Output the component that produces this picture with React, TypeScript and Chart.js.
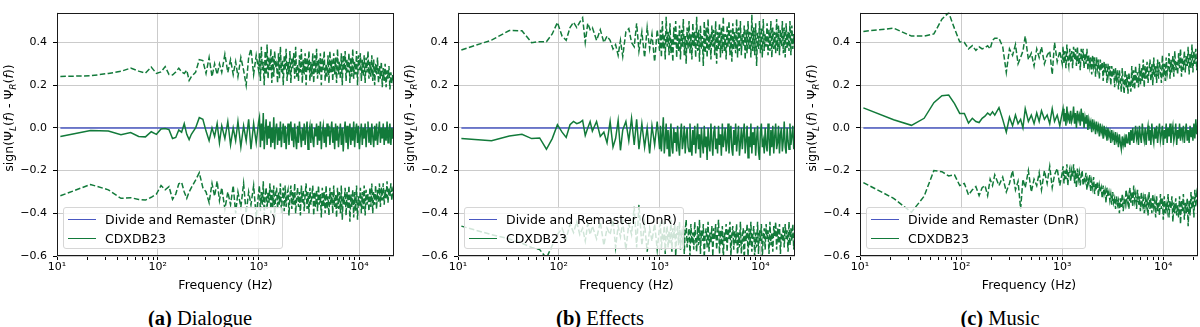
import React, { useEffect, useRef } from "react";
import { Chart, registerables } from "chart.js";

Chart.register(...registerables);

const GREEN = "#127a3a";
const BLUE = "#4a58c2";
const GRID = "#cbcbcb";
const FONT = "'DejaVu Sans', sans-serif";

// Frequency bins (Hz)
const FREQ = [
  10.8, 21.5, 32.3, 43.1, 53.8, 64.6, 75.4, 86.1, 96.9, 107.7, 118.4, 129.2, 140, 150.7, 161.5, 172.3, 183, 193.8, 204.6, 215.3,
  237, 258, 280, 301, 323, 345, 366, 388, 409, 431, 463, 495, 527, 560, 592, 624, 667, 710, 753, 797, 840, 893, 947, 1001,
  1020, 1042, 1065, 1089, 1113, 1137, 1162, 1188, 1214, 1241,
  1268, 1296, 1324, 1353, 1383, 1414, 1445, 1476, 1509, 1542,
  1576, 1611, 1646, 1682, 1719, 1757, 1796, 1835, 1875, 1917,
  1959, 2002, 2046, 2091, 2137, 2184, 2232, 2281, 2331, 2382,
  2435, 2488, 2543, 2599, 2656, 2714, 2774, 2835, 2897, 2961,
  3026, 3092, 3160, 3230, 3301, 3373, 3447, 3523, 3601, 3680,
  3761, 3843, 3928, 4014, 4102, 4192, 4285, 4379, 4475, 4573,
  4674, 4777, 4882, 4989, 5099, 5211, 5325, 5442, 5562, 5684,
  5809, 5937, 6067, 6201, 6337, 6477, 6619, 6765, 6914, 7066,
  7221, 7380, 7542, 7708, 7878, 8051, 8228, 8409, 8594, 8783,
  8976, 9174, 9376, 9582, 9793, 10008, 10228, 10453, 10683, 10918,
  11158, 11404, 11655, 11911, 12173, 12441, 12715, 12995, 13281, 13573,
  13871, 14176, 14488, 14807, 15133, 15466, 15806, 16154, 16509, 16872,
  17244, 17623, 18011, 18407, 18812, 19226, 19649, 20081, 20523, 20975,
  21436, 22050,
];

const X_TICKS = [
  10, 20, 30, 40, 50, 60, 70, 80, 90, 100, 200, 300, 400, 500, 600, 700, 800, 900,
  1000, 2000, 3000, 4000, 5000, 6000, 7000, 8000, 9000, 10000, 20000,
];
const Y_TICKS = [-0.6, -0.4, -0.2, 0, 0.2, 0.4];
const X_MIN = 10;
const X_MAX = 22050;
const Y_MIN = -0.6;
const Y_MAX = 0.54;

const LEGEND_DNR = "Divide and Remaster (DnR)";
const LEGEND_CDX = "CDXDB23";
const X_TITLE = "Frequency (Hz)";
// y-axis title pieces: [text, italic, subscript]
const Y_TITLE_PARTS: [string, boolean, boolean][] = [
  ["sign(\u03A8", false, false],
  ["L", true, true],
  ["(", false, false],
  ["f", true, false],
  [") - \u03A8", false, false],
  ["R", true, true],
  ["(", false, false],
  ["f", true, false],
  ["))", false, false],
];

// (a) Dialogue
const dialogueUpper = [
  0.241, 0.244, 0.255, 0.265, 0.28, 0.266, 0.257, 0.285, 0.255, 0.262, 0.287, 0.25, 0.248, 0.262, 0.28, 0.262, 0.255, 0.27, 0.222, 0.24,
  0.26, 0.32, 0.315, 0.255, 0.33, 0.24, 0.3, 0.25, 0.3, 0.26, 0.345, 0.26, 0.32, 0.25, 0.31, 0.24, 0.33, 0.27, 0.2, 0.33, 0.37, 0.25, 0.34, 0.27,
  0.35, 0.22, 0.38, 0.27, 0.31, 0.2, 0.36, 0.25, 0.39, 0.23,
  0.33, 0.27, 0.37, 0.21, 0.34, 0.24, 0.36, 0.28, 0.3, 0.21,
  0.35, 0.23, 0.38, 0.26, 0.32, 0.2, 0.34, 0.27, 0.37, 0.22,
  0.31, 0.25, 0.36, 0.21, 0.33, 0.28, 0.35, 0.23, 0.38, 0.24,
  0.3, 0.22, 0.34, 0.26, 0.37, 0.21, 0.32, 0.25, 0.35, 0.2,
  0.33, 0.27, 0.36, 0.22, 0.31, 0.24, 0.35, 0.21, 0.34, 0.26,
  0.37, 0.23, 0.32, 0.25, 0.35, 0.2, 0.33, 0.27, 0.36, 0.22,
  0.3, 0.24, 0.34, 0.21, 0.36, 0.26, 0.32, 0.22, 0.35, 0.25,
  0.33, 0.21, 0.37, 0.25, 0.31, 0.23, 0.35, 0.2, 0.34, 0.27,
  0.36, 0.22, 0.32, 0.26, 0.35, 0.21, 0.33, 0.24, 0.37, 0.23,
  0.31, 0.25, 0.36, 0.2, 0.34, 0.27, 0.35, 0.22, 0.32, 0.24,
  0.34, 0.21, 0.33, 0.26, 0.36, 0.23, 0.31, 0.24, 0.34, 0.22,
  0.32, 0.2, 0.3, 0.25, 0.33, 0.21, 0.29, 0.23, 0.31, 0.19,
  0.28, 0.22, 0.3, 0.19, 0.27, 0.23, 0.29, 0.18, 0.26, 0.21,
  0.25, 0.2,
];
const dialogueMean = [
  -0.04, -0.012, -0.015, -0.032, -0.022, -0.04, -0.042, -0.018, -0.03, -0.005, -0.003, -0.008, -0.05, -0.045, -0.01, -0.02, 0.02, -0.03, -0.055, -0.03,
  0, 0.048, 0.04, -0.015, -0.06, 0, -0.04, 0.02, -0.07, 0.01, -0.05, 0.03, -0.08, 0, -0.06, 0.03, -0.09, 0.01, -0.06, 0.04, -0.1, 0.02, -0.07, 0.03,
  0.05, -0.09, 0.02, -0.06, 0.07, -0.1, -0.02, 0.04, -0.08, 0.01,
  -0.05, 0.03, -0.09, 0, -0.07, 0.05, -0.1, -0.01, 0.02, -0.08,
  0, -0.06, 0.03, -0.09, -0.02, 0.02, -0.07, 0.01, -0.1, -0.03,
  0.02, -0.08, -0.01, 0.03, -0.06, 0, -0.09, 0.02, -0.05, -0.1,
  0.01, -0.07, 0.03, -0.03, -0.09, 0, -0.06, 0.02, -0.08, -0.01,
  0.03, -0.1, -0.02, 0.01, -0.07, 0.02, -0.05, -0.09, 0, -0.04,
  0.02, -0.08, 0.01, -0.06, 0.03, -0.1, -0.02, 0.01, -0.07, 0,
  -0.09, 0.02, -0.04, 0.01, -0.08, -0.01, 0.03, -0.07, 0, -0.1,
  0.02, -0.06, 0.01, -0.09, -0.03, 0.02, -0.08, 0, -0.11, -0.02,
  0.03, -0.07, 0.01, -0.1, -0.04, 0.02, -0.08, 0, -0.06, 0.03,
  -0.09, -0.01, 0.02, -0.07, 0.01, -0.1, -0.03, 0.02, -0.08, 0,
  -0.05, 0.02, -0.09, -0.01, 0.03, -0.07, 0, -0.08, 0.02, -0.04,
  -0.09, 0.01, -0.06, 0.02, -0.08, -0.02, 0.03, -0.07, 0, -0.05,
  0.02, -0.08, 0, -0.06, 0.03, -0.07, -0.01, 0.02, -0.08, 0,
  -0.05, 0.02,
];
const dialogueLower = [
  -0.318, -0.265, -0.29, -0.33, -0.327, -0.335, -0.338, -0.325, -0.31, -0.27, -0.29, -0.275, -0.335, -0.31, -0.262, -0.255, -0.3, -0.33, -0.3, -0.28,
  -0.245, -0.21, -0.28, -0.3, -0.35, -0.26, -0.32, -0.25, -0.34, -0.28, -0.38, -0.3, -0.36, -0.27, -0.4, -0.3, -0.37, -0.26, -0.4, -0.3, -0.36, -0.27, -0.42, -0.3,
  -0.27, -0.39, -0.3, -0.36, -0.25, -0.41, -0.32, -0.28, -0.38, -0.3,
  -0.35, -0.26, -0.4, -0.29, -0.37, -0.27, -0.42, -0.31, -0.28, -0.38,
  -0.3, -0.36, -0.26, -0.4, -0.33, -0.28, -0.39, -0.27, -0.37, -0.31,
  -0.29, -0.41, -0.32, -0.27, -0.38, -0.3, -0.36, -0.26, -0.4, -0.33,
  -0.28, -0.37, -0.3, -0.41, -0.27, -0.35, -0.29, -0.39, -0.31, -0.26,
  -0.38, -0.3, -0.4, -0.28, -0.36, -0.32, -0.27, -0.41, -0.3, -0.37,
  -0.29, -0.39, -0.27, -0.36, -0.31, -0.42, -0.28, -0.37, -0.3, -0.4,
  -0.27, -0.38, -0.32, -0.41, -0.28, -0.36, -0.3, -0.4, -0.27, -0.37,
  -0.31, -0.42, -0.28, -0.38, -0.3, -0.4, -0.27, -0.43, -0.32, -0.36,
  -0.28, -0.41, -0.3, -0.38, -0.27, -0.44, -0.31, -0.37, -0.29, -0.42,
  -0.3, -0.39, -0.27, -0.43, -0.32, -0.37, -0.28, -0.4, -0.3, -0.38,
  -0.27, -0.41, -0.29, -0.36, -0.31, -0.39, -0.28, -0.37, -0.26, -0.4,
  -0.3, -0.36, -0.27, -0.38, -0.29, -0.35, -0.26, -0.37, -0.28, -0.34,
  -0.26, -0.36, -0.29, -0.33, -0.25, -0.35, -0.28, -0.32, -0.26, -0.34,
  -0.29, -0.31,
];

// (b) Effects
const effectsUpper = [
  0.365, 0.411, 0.456, 0.455, 0.399, 0.404, 0.404, 0.44, 0.494, 0.43, 0.41, 0.47, 0.495, 0.47, 0.495, 0.516, 0.4, 0.49, 0.46, 0.47,
  0.41, 0.46, 0.4, 0.43, 0.41, 0.37, 0.39, 0.34, 0.41, 0.335, 0.45, 0.465, 0.4, 0.38, 0.49, 0.36, 0.45, 0.33, 0.47, 0.37, 0.44, 0.31, 0.46, 0.36,
  0.46, 0.33, 0.5, 0.37, 0.44, 0.32, 0.52, 0.38, 0.45, 0.34,
  0.49, 0.35, 0.42, 0.31, 0.47, 0.39, 0.5, 0.33, 0.44, 0.36,
  0.48, 0.32, 0.46, 0.38, 0.51, 0.34, 0.43, 0.3, 0.47, 0.37,
  0.5, 0.35, 0.44, 0.32, 0.49, 0.38, 0.45, 0.33, 0.52, 0.36,
  0.46, 0.31, 0.48, 0.37, 0.43, 0.29, 0.5, 0.35, 0.47, 0.33,
  0.51, 0.36, 0.44, 0.32, 0.48, 0.38, 0.46, 0.34, 0.5, 0.3,
  0.45, 0.37, 0.49, 0.33, 0.47, 0.35, 0.52, 0.36, 0.44, 0.32,
  0.48, 0.38, 0.5, 0.34, 0.46, 0.31, 0.49, 0.37, 0.45, 0.35,
  0.51, 0.33, 0.47, 0.36, 0.5, 0.34, 0.44, 0.38, 0.48, 0.32,
  0.46, 0.35, 0.5, 0.37, 0.45, 0.33, 0.53, 0.36, 0.47, 0.34,
  0.49, 0.29, 0.45, 0.37, 0.5, 0.35, 0.47, 0.33, 0.51, 0.36,
  0.44, 0.38, 0.49, 0.34, 0.46, 0.36, 0.5, 0.33, 0.47, 0.37,
  0.45, 0.35, 0.51, 0.36, 0.48, 0.34, 0.46, 0.38, 0.5, 0.35,
  0.47, 0.33, 0.49, 0.37, 0.45, 0.36, 0.5, 0.34, 0.48, 0.37,
  0.44, 0.36,
];
const effectsMean = [
  -0.05, -0.06, -0.038, -0.03, -0.05, -0.047, -0.1, -0.05, 0.015, -0.02, -0.045, 0.015, 0.03, 0.02, 0.025, 0.035, -0.035, 0, 0.03, -0.015,
  0.03, -0.04, -0.02, -0.07, 0.03, -0.09, -0.05, 0.035, -0.105, -0.01, 0.03, -0.06, 0.045, -0.08, 0.04, -0.1, 0.02, -0.09, 0, -0.12, 0.01, -0.08, 0.03, -0.1,
  0.01, -0.11, -0.03, 0.05, -0.12, -0.06, 0.02, -0.1, -0.01, -0.13,
  -0.04, 0.02, -0.09, -0.12, 0, -0.07, -0.02, -0.11, 0.01, -0.08,
  -0.13, -0.03, 0.02, -0.1, -0.06, 0.01, -0.12, -0.04, 0, -0.09,
  -0.11, 0.02, -0.07, -0.13, -0.01, -0.08, 0.01, -0.12, -0.05, 0.02,
  -0.1, -0.03, -0.14, 0, -0.07, -0.12, 0.01, -0.09, -0.04, -0.15,
  0, -0.08, -0.11, 0.02, -0.06, -0.13, -0.02, 0.01, -0.1, -0.05,
  -0.12, 0.01, -0.08, -0.03, -0.13, 0.02, -0.09, -0.05, 0, -0.11,
  -0.07, 0.02, -0.12, -0.04, 0.01, -0.1, -0.13, -0.01, -0.08, 0.02,
  -0.11, -0.05, 0.01, -0.13, -0.07, 0, -0.1, -0.03, 0.02, -0.12,
  -0.06, 0.01, -0.14, -0.04, -0.09, 0.02, -0.12, -0.02, -0.08, 0,
  -0.13, -0.05, 0.01, -0.11, -0.15, -0.02, 0.02, -0.09, -0.06, -0.12,
  0, -0.08, -0.11, 0.02, -0.05, -0.13, -0.01, -0.09, 0.01, -0.12,
  -0.04, 0.02, -0.1, -0.07, 0.01, -0.12, -0.03, 0, -0.11, -0.06,
  0.03, -0.09, -0.12, 0, -0.06, -0.1, 0.02, -0.08, -0.04, 0.01,
  -0.1, -0.03,
];
const effectsLower = [
  -0.46, -0.5, -0.52, -0.54, -0.56, -0.57, -0.61, -0.55, -0.5, -0.47, -0.52, -0.45, -0.49, -0.44, -0.5, -0.47, -0.53, -0.45, -0.5, -0.46,
  -0.52, -0.44, -0.55, -0.47, -0.5, -0.43, -0.56, -0.46, -0.51, -0.44, -0.57, -0.45, -0.5, -0.37, -0.56, -0.36, -0.55, -0.45, -0.58, -0.47, -0.53, -0.45, -0.57, -0.46,
  -0.45, -0.57, -0.49, -0.53, -0.44, -0.59, -0.5, -0.46, -0.56, -0.48,
  -0.54, -0.43, -0.58, -0.47, -0.52, -0.45, -0.6, -0.49, -0.46, -0.55,
  -0.44, -0.57, -0.5, -0.53, -0.46, -0.59, -0.48, -0.43, -0.56, -0.51,
  -0.47, -0.6, -0.45, -0.54, -0.49, -0.57, -0.44, -0.52, -0.58, -0.46,
  -0.55, -0.43, -0.59, -0.48, -0.53, -0.45, -0.61, -0.5, -0.47, -0.56,
  -0.44, -0.58, -0.49, -0.54, -0.46, -0.6, -0.47, -0.52, -0.45, -0.57,
  -0.5, -0.43, -0.59, -0.48, -0.55, -0.46, -0.62, -0.49, -0.53, -0.45,
  -0.58, -0.47, -0.52, -0.44, -0.6, -0.5, -0.46, -0.57, -0.48, -0.54,
  -0.45, -0.61, -0.49, -0.56, -0.44, -0.59, -0.51, -0.47, -0.63, -0.48,
  -0.53, -0.45, -0.6, -0.47, -0.55, -0.44, -0.58, -0.5, -0.46, -0.62,
  -0.49, -0.56, -0.44, -0.59, -0.48, -0.53, -0.45, -0.61, -0.5, -0.47,
  -0.57, -0.45, -0.52, -0.48, -0.59, -0.44, -0.55, -0.49, -0.58, -0.46,
  -0.51, -0.44, -0.57, -0.47, -0.54, -0.45, -0.59, -0.49, -0.53, -0.46,
  -0.56, -0.45, -0.52, -0.48, -0.58, -0.44, -0.55, -0.47, -0.53, -0.45,
  -0.57, -0.48,
];

// (c) Music
const musicUpper = [
  0.452, 0.467, 0.43, 0.43, 0.44, 0.509, 0.54, 0.465, 0.403, 0.4, 0.37, 0.385, 0.363, 0.38, 0.37, 0.375, 0.385, 0.37, 0.41, 0.42,
  0.42, 0.38, 0.26, 0.37, 0.34, 0.39, 0.3, 0.33, 0.36, 0.43, 0.32, 0.35, 0.29, 0.37, 0.33, 0.38, 0.3, 0.34, 0.36, 0.25, 0.4, 0.31, 0.36, 0.3,
  0.38, 0.3, 0.36, 0.28, 0.39, 0.32, 0.29, 0.37, 0.31, 0.36,
  0.28, 0.38, 0.32, 0.37, 0.29, 0.38, 0.3, 0.35, 0.27, 0.37,
  0.31, 0.37, 0.28, 0.35, 0.3, 0.37, 0.27, 0.34, 0.29, 0.33,
  0.25, 0.34, 0.29, 0.33, 0.24, 0.33, 0.28, 0.32, 0.23, 0.32,
  0.27, 0.31, 0.22, 0.31, 0.26, 0.3, 0.21, 0.3, 0.25, 0.29,
  0.2, 0.29, 0.24, 0.28, 0.19, 0.28, 0.23, 0.27, 0.18, 0.27,
  0.22, 0.17, 0.28, 0.21, 0.16, 0.27, 0.19, 0.25, 0.16, 0.26,
  0.2, 0.17, 0.29, 0.19, 0.27, 0.18, 0.29, 0.21, 0.26, 0.19,
  0.3, 0.2, 0.28, 0.22, 0.32, 0.19, 0.29, 0.23, 0.31, 0.21,
  0.27, 0.32, 0.22, 0.3, 0.2, 0.33, 0.24, 0.29, 0.21, 0.32,
  0.23, 0.31, 0.27, 0.21, 0.34, 0.24, 0.3, 0.22, 0.33, 0.25,
  0.28, 0.35, 0.23, 0.32, 0.26, 0.34, 0.24, 0.36, 0.27, 0.31,
  0.25, 0.35, 0.28, 0.37, 0.24, 0.33, 0.27, 0.36, 0.26, 0.34,
  0.29, 0.38, 0.25, 0.35, 0.28, 0.39, 0.26, 0.36, 0.3, 0.37,
  0.27, 0.35,
];
const musicMean = [
  0.094, 0.038, 0.012, 0.045, 0.118, 0.151, 0.154, 0.114, 0.068, 0.068, 0.023, 0.045, 0.03, 0.025, 0.045, 0.055, 0.07, 0.06, 0.075, 0.06,
  0.095, 0.04, -0.02, 0.05, 0.01, 0.06, 0.02, 0.04, 0, 0.09, 0.03, 0.06, 0.02, 0.07, 0.03, 0.08, 0.04, 0.06, 0.02, 0.09, 0.03, 0.06, 0.01, 0.07,
  0.09, 0.03, 0.07, 0.01, 0.1, 0.04, 0.06, 0.02, 0.08, 0.03,
  0.05, 0.1, 0.02, 0.07, 0, 0.08, 0.04, 0.06, 0.01, 0.09,
  0.03, 0.07, 0, 0.05, 0.02, 0.06, -0.01, 0.04, 0.01, 0.03,
  -0.02, 0.04, 0, 0.02, -0.03, 0.03, -0.01, 0.01, -0.04, 0.02,
  -0.02, 0, -0.05, 0.01, -0.03, -0.01, -0.06, 0, -0.04, -0.02,
  -0.07, -0.01, -0.05, -0.03, -0.08, -0.02, -0.06, -0.04, -0.09, -0.03,
  -0.07, -0.1, -0.04, -0.08, -0.05, -0.09, -0.03, -0.07, -0.06, -0.02,
  -0.08, -0.01, -0.06, 0, -0.07, -0.03, 0.01, -0.05, -0.02, -0.08,
  0.01, -0.04, -0.07, 0.02, -0.03, -0.06, 0, -0.08, -0.02, 0.01,
  -0.06, -0.01, -0.08, 0.02, -0.04, -0.07, 0, -0.05, 0.01, -0.07,
  -0.02, 0.02, -0.06, -0.03, 0.01, -0.08, -0.01, -0.05, 0.02, -0.07,
  0, -0.04, 0.02, -0.07, -0.02, 0.01, -0.06, -0.03, 0.02, -0.08,
  -0.01, -0.05, 0.02, -0.06, 0, -0.04, 0.01, -0.07, -0.02, 0.02,
  -0.06, -0.01, -0.07, 0.01, -0.04, 0, -0.06, 0.02, -0.05, 0.04,
  -0.03, 0.02,
];
const musicLower = [
  -0.256, -0.33, -0.395, -0.32, -0.2, -0.205, -0.225, -0.22, -0.27, -0.26, -0.314, -0.29, -0.275, -0.317, -0.28, -0.27, -0.317, -0.24, -0.27, -0.22,
  -0.27, -0.23, -0.3, -0.26, -0.2, -0.29, -0.25, -0.38, -0.24, -0.28, -0.2, -0.3, -0.24, -0.27, -0.21, -0.29, -0.2, -0.26, -0.18, -0.28, -0.22, -0.19, -0.27, -0.21,
  -0.18, -0.26, -0.2, -0.24, -0.17, -0.27, -0.21, -0.19, -0.25, -0.2,
  -0.23, -0.17, -0.26, -0.2, -0.28, -0.19, -0.24, -0.21, -0.27, -0.22,
  -0.2, -0.27, -0.23, -0.25, -0.21, -0.29, -0.24, -0.26, -0.22, -0.3,
  -0.25, -0.28, -0.23, -0.31, -0.26, -0.29, -0.25, -0.32, -0.27, -0.3,
  -0.28, -0.33, -0.27, -0.31, -0.29, -0.35, -0.28, -0.32, -0.3, -0.34,
  -0.31, -0.36, -0.3, -0.35, -0.33, -0.38, -0.32, -0.36, -0.34, -0.4,
  -0.33, -0.37, -0.31, -0.39, -0.34, -0.36, -0.29, -0.35, -0.32, -0.38,
  -0.28, -0.35, -0.3, -0.37, -0.27, -0.34, -0.31, -0.38, -0.29, -0.36,
  -0.32, -0.39, -0.3, -0.36, -0.33, -0.4, -0.31, -0.37, -0.34, -0.41,
  -0.3, -0.38, -0.33, -0.4, -0.31, -0.37, -0.34, -0.42, -0.32, -0.39,
  -0.35, -0.41, -0.31, -0.38, -0.33, -0.43, -0.32, -0.4, -0.36, -0.39,
  -0.31, -0.42, -0.34, -0.38, -0.32, -0.44, -0.35, -0.4, -0.33, -0.41,
  -0.36, -0.42, -0.32, -0.45, -0.34, -0.39, -0.31, -0.43, -0.35, -0.4,
  -0.33, -0.46, -0.34, -0.41, -0.3, -0.38, -0.32, -0.42, -0.29, -0.37,
  -0.31, -0.35,
];

const SUP: Record<number, string> = { 1: "\u00B9", 2: "\u00B2", 3: "\u00B3", 4: "\u2074" };

function isDecade(v: number) {
  const l = Math.log10(v);
  return Math.abs(l - Math.round(l)) < 1e-9;
}

const framePlugin = {
  id: "frame",
  afterDatasetsDraw(chart: any) {
    const { ctx, chartArea: a } = chart;
    ctx.save();
    ctx.strokeStyle = "#1a1a1a";
    ctx.lineWidth = 1;
    const l = Math.round(a.left) + 0.5;
    const t = Math.round(a.top) + 0.5;
    const r = Math.round(a.right) - 0.5;
    const b = Math.round(a.bottom) - 0.5;
    ctx.strokeRect(l, t, r - l, b - t);
    ctx.restore();
  },
};

function makeYTitlePlugin(cx: number, cy: number) {
  return {
    id: "ytitle",
    afterDraw(chart: any) {
      const ctx = chart.ctx;
      const size = 12.5;
      const fontOf = (it: boolean, sub: boolean) =>
        `${it ? "italic " : ""}${sub ? size * 0.72 : size}px ${FONT}`;
      ctx.save();
      let total = 0;
      const widths = Y_TITLE_PARTS.map(([t, it, sub]) => {
        ctx.font = fontOf(it, sub);
        const w = ctx.measureText(t).width;
        total += w;
        return w;
      });
      ctx.translate(cx, cy);
      ctx.rotate(-Math.PI / 2);
      ctx.fillStyle = "#000";
      ctx.textBaseline = "middle";
      ctx.textAlign = "left";
      let x = -total / 2;
      Y_TITLE_PARTS.forEach(([t, it, sub], i) => {
        ctx.font = fontOf(it, sub);
        ctx.fillText(t, x, sub ? 3.5 : 0);
        x += widths[i];
      });
      ctx.restore();
    },
  };
}

type PanelProps = {
  index: number;
  letter: string;
  name: string;
  upper: number[];
  mean: number[];
  lower: number[];
  plotLeft: number;
  padRight: number;
};

function Panel({ index, letter, name, upper, mean, lower, plotLeft, padRight }: PanelProps) {
  const ref = useRef<HTMLCanvasElement>(null);

  useEffect(() => {
    const pts = (vals: number[]) => FREQ.map((f, i) => ({ x: f, y: vals[i] }));
    const dashed = {
      borderColor: GREEN,
      borderWidth: 1.5,
      borderDash: [5.5, 2.4],
      pointRadius: 0,
      fill: false,
      tension: 0,
    };
    const chart = new Chart(ref.current as HTMLCanvasElement, {
      type: "line",
      data: {
        datasets: [
          { label: "upper", data: pts(upper), ...dashed },
          {
            label: LEGEND_CDX,
            data: pts(mean),
            borderColor: GREEN,
            borderWidth: 1.5,
            pointRadius: 0,
            fill: false,
            tension: 0,
          },
          { label: "lower", data: pts(lower), ...dashed },
          {
            label: LEGEND_DNR,
            data: [
              { x: FREQ[0], y: 0 },
              { x: FREQ[FREQ.length - 1], y: 0 },
            ],
            borderColor: BLUE,
            borderWidth: 1.5,
            pointRadius: 0,
            fill: false,
          },
        ],
      },
      options: {
        animation: false,
        responsive: false,
        maintainAspectRatio: false,
        events: [],
        layout: { padding: { left: 0, right: padRight, top: 5, bottom: 0 } },
        plugins: { legend: { display: false }, tooltip: { enabled: false } },
        scales: {
          x: {
            type: "logarithmic",
            min: X_MIN,
            max: X_MAX,
            afterBuildTicks: (s: any) => {
              s.ticks = X_TICKS.map((v) => ({ value: v, major: isDecade(v) }));
            },
            afterFit: (s: any) => {
              s.height = 44;
            },
            ticks: {
              autoSkip: false,
              maxRotation: 0,
              padding: 1,
              color: "#000",
              font: { family: FONT, size: 11 },
              callback: (v: any) => {
                const n = Number(v);
                if (!isDecade(n)) return "";
                return "10" + SUP[Math.round(Math.log10(n))];
              },
            },
            grid: {
              color: (c: any) => (c.tick && isDecade(c.tick.value) ? GRID : "rgba(0,0,0,0)"),
              lineWidth: 1,
              tickColor: "#000",
              tickLength: 4,
            },
            border: { display: false },
            title: {
              display: true,
              text: X_TITLE,
              color: "#000",
              font: { family: FONT, size: 12.5 },
              padding: { top: 0, bottom: 7 },
            },
          },
          y: {
            type: "linear",
            min: Y_MIN,
            max: Y_MAX,
            afterBuildTicks: (s: any) => {
              s.ticks = Y_TICKS.map((v) => ({ value: v }));
            },
            afterFit: (s: any) => {
              s.width = plotLeft;
            },
            ticks: {
              padding: 6,
              color: "#000",
              font: { family: FONT, size: 11 },
              callback: (v: any) => Number(v).toFixed(1).replace("-", "\u2212"),
            },
            grid: { color: GRID, lineWidth: 1, tickColor: "#000", tickLength: 4 },
            border: { display: false },
          },
        },
      } as any,
      plugins: [framePlugin, makeYTitlePlugin(plotLeft - 47, 118)],
    });
    return () => chart.destroy();
  }, []);

  const legendRow = (top: number, color: string, text: string) => (
    <>
      <div
        style={{
          position: "absolute",
          left: 4,
          top: top - 1,
          width: 28,
          height: 0,
          borderTop: `1.5px solid ${color}`,
        }}
      />
      <div
        style={{
          position: "absolute",
          left: 41,
          top: top - 8,
          height: 16,
          lineHeight: "16px",
          fontFamily: FONT,
          fontSize: 12.5,
          color: "#000",
          whiteSpace: "nowrap",
        }}
      >
        {text}
      </div>
    </>
  );

  return (
    <div style={{ position: "absolute", left: index * 400, top: 0, width: 400, height: 327 }}>
      <canvas ref={ref} width={400} height={300} style={{ position: "absolute", left: 0, top: 0, width: 400, height: 300 }} />
      <div
        style={{
          position: "absolute",
          left: plotLeft + 6,
          top: 207,
          width: 220,
          height: 42,
          boxSizing: "border-box",
          border: "1px solid #d6d6d6",
          borderRadius: 3,
          background: "rgba(255,255,255,0.8)",
        }}
      >
        {legendRow(12, BLUE, LEGEND_DNR)}
        {legendRow(31, GREEN, LEGEND_CDX)}
      </div>
      <div
        style={{
          position: "absolute",
          left: 0,
          top: 306,
          width: 400,
          textAlign: "center",
          fontFamily: "'Liberation Serif', 'DejaVu Serif', serif",
          fontSize: 20.5,
          lineHeight: "24px",
          color: "#000",
        }}
      >
        <b>{letter}</b> {name}
      </div>
    </div>
  );
}

export default function App() {
  return (
    <div
      style={{
        position: "fixed",
        left: 0,
        top: 0,
        width: 1200,
        height: 327,
        background: "#fff",
        overflow: "hidden",
      }}
    >
      <Panel index={0} letter="(a)" name="Dialogue" upper={dialogueUpper} mean={dialogueMean} lower={dialogueLower} plotLeft={57} padRight={6} />
      <Panel index={1} letter="(b)" name="Effects" upper={effectsUpper} mean={effectsMean} lower={effectsLower} plotLeft={58} padRight={5} />
      <Panel index={2} letter="(c)" name="Music" upper={musicUpper} mean={musicMean} lower={musicLower} plotLeft={60} padRight={2} />
    </div>
  );
}
